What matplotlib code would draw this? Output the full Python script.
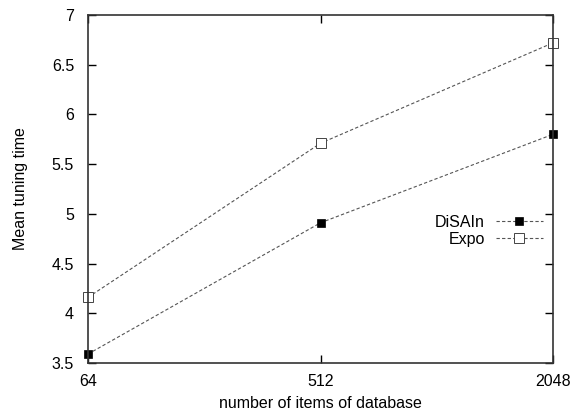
import matplotlib
matplotlib.use('Agg')
import matplotlib.pyplot as plt

plt.rcParams['font.family'] = ['Liberation Sans', 'DejaVu Sans']

# data
items = ['64', '512', '2048']
disain = [3.59, 4.91, 5.80]
expo = [4.16, 5.71, 6.72]

fig = plt.figure(figsize=(5.72, 4.15), dpi=100)
ax = fig.add_axes([88/572, 1 - 363/415, (553 - 88)/572, (363 - 15)/415])

pos = list(range(len(items)))
ax.plot(pos, disain, color='#555555', linestyle=(0, (3, 2)), linewidth=0.8,
        marker='s', markersize=5.5, markerfacecolor='black', markeredgecolor='black',
        markeredgewidth=0.5, label='DiSAIn', clip_on=False)
ax.plot(pos, expo, color='#555555', linestyle=(0, (3, 2)), linewidth=0.8,
        marker='s', markersize=6.5, markerfacecolor='white', markeredgecolor='#444444',
        markeredgewidth=0.7, label='Expo', clip_on=False)

ax.set_xlim(0, len(items) - 1)
ax.set_ylim(3.5, 7)
ax.set_xticks(pos)
ax.set_xticklabels(items)
ax.set_yticks([3.5, 4, 4.5, 5, 5.5, 6, 6.5, 7])
ax.set_yticklabels(['3.5', '4', '4.5', '5', '5.5', '6', '6.5', '7'])
ax.tick_params(direction='in', length=6, width=1, labelsize=11.5,
               top=True, right=True)
ax.tick_params(axis='y', pad=10)
ax.tick_params(axis='x', pad=8)

for s in ax.spines.values():
    s.set_linewidth(1.2)
    s.set_color('#333333')

ax.set_xlabel('number of items of database', fontsize=11.5, labelpad=5)
ax.set_ylabel('Mean tuning time', fontsize=11.5, labelpad=17)

leg = ax.legend(loc='center right', bbox_to_anchor=(1.0, 0.38), frameon=False,
                markerfirst=False, fontsize=11.5, handlelength=3.0, markerscale=1.0,
                handletextpad=0.65, labelspacing=0.15, borderaxespad=0.2)
for t in leg.get_texts():
    t.set_ha('right')

fig.savefig('out.png', dpi=100)
